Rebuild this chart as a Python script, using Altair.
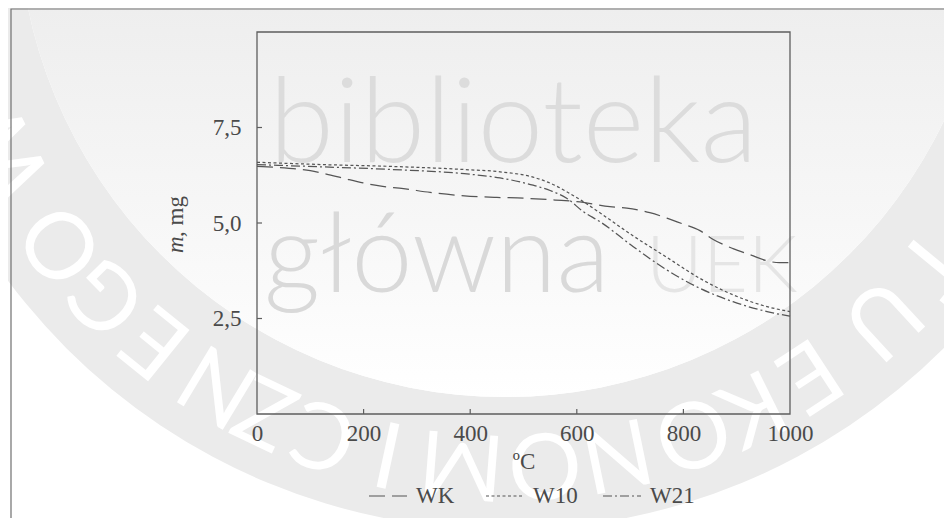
import math
import altair as alt
import pandas as pd

# ---------------- data ----------------
T_WK = [0, 60, 100, 130, 160, 199, 230, 275, 325, 400, 450, 500, 560, 600, 662, 694,
        737, 769, 800, 831, 856, 893, 925, 957, 980, 1000]
M_WK = [6.48, 6.43, 6.37, 6.28, 6.18, 6.05, 5.97, 5.90, 5.80, 5.70, 5.67, 5.65, 5.60,
        5.56, 5.43, 5.39, 5.27, 5.13, 4.97, 4.80, 4.57, 4.33, 4.17, 4.01, 3.96, 3.96]

T_W10 = [0, 121, 255, 389, 456, 518, 560, 581, 612, 644, 706, 769, 831, 893, 957, 1000]
M_W10 = [6.59, 6.53, 6.48, 6.40, 6.34, 6.20, 5.98, 5.82, 5.56, 5.26, 4.66, 4.10, 3.55,
         3.12, 2.81, 2.68]

T_W21 = [0, 121, 255, 389, 456, 518, 550, 581, 612, 644, 706, 769, 831, 893, 957, 1000]
M_W21 = [6.53, 6.47, 6.40, 6.29, 6.18, 5.99, 5.85, 5.65, 5.30, 5.03, 4.38, 3.77, 3.29,
         2.94, 2.68, 2.56]

series_names = ["WK", "W10", "W21"]
dash_patterns = [[16, 7], [3, 2.5], [9, 3, 2, 3]]

x_ticks = [0, 200, 400, 600, 800, 1000]
x_inner_ticks = [200, 400, 600, 800]
y_ticks = [2.5, 5.0, 7.5]

x_title = "ºC"
y_title_italic = "m"
y_title_rest = ", mg"

# watermark texts
wm_word1 = "biblioteka"
wm_word2 = "główna"
wm_word3 = "UEK"
ring_letters = list("TUEKONOMICZNEGOW")
ring_angles = [39.4, 47.3, 56.8, 63.6, 70.3, 78.4, 85.9, 94.5,
               102.1, 109, 115.5, 121.1, 128.9, 135.8, 143, 154]

# ---------------- styling ----------------
W, H = 533, 382
SERIF = "Liberation Serif"
FS = 23
TXT = "#4a4a4a"
LINE = "#555555"
FRAME = "#5e5e5e"

rows = []
for name, ts, ms in [("WK", T_WK, M_WK), ("W10", T_W10, M_W10), ("W21", T_W21, M_W21)]:
    for t, m in zip(ts, ms):
        rows.append({"T": t, "m": m, "series": name})
df = pd.DataFrame(rows)
one = pd.DataFrame({"k": [0]})

x_scale = alt.Scale(domain=[0, 1000], nice=False, zero=False)
y_scale = alt.Scale(domain=[0, 10], nice=False, zero=False)

# --- watermark ---
CX, CY = 248, -122
ring = alt.Chart(one).mark_arc(
    radius=620, radius2=487, theta=0, theta2=2 * math.pi, color="#ebebeb"
).encode(x=alt.value(CX), y=alt.value(CY))

disk = alt.Chart(one).mark_arc(
    radius=487, theta=0, theta2=2 * math.pi,
    color=alt.LinearGradient(
        gradient="linear",
        stops=[
            alt.GradientStop(offset=0, color="#e2e2e2"),
            alt.GradientStop(offset=0.6, color="#eeeeee"),
            alt.GradientStop(offset=0.82, color="#f7f7f7"),
            alt.GradientStop(offset=1, color="#ffffff"),
        ],
        x1=0, x2=0, y1=0, y2=1,
    ),
).encode(x=alt.value(CX), y=alt.value(CY))

letters_df = pd.DataFrame({"ch": ring_letters, "deg": ring_angles})
ring_text = alt.Chart(letters_df).transform_calculate(
    th="(datum.deg + 90) * PI / 180",
    rot="datum.deg + 90",
).mark_text(
    x=CX, y=CY, radius=553, font="Lato", fontWeight=400, fontSize=92,
    color="#ffffff", align="center", baseline="middle",
).encode(
    theta=alt.Theta("th:Q", scale=None, stack=False),
    angle=alt.Angle("rot:Q", scale=None),
    text=alt.Text("ch:N"),
)

wm1 = alt.Chart(one).mark_text(
    text=wm_word1, font="Lato", fontWeight=300, fontSize=118, color="#dcdcdc",
    align="left", baseline="alphabetic",
).encode(x=alt.value(12), y=alt.value(130))
wm2 = alt.Chart(one).mark_text(
    text=wm_word2, font="Lato", fontWeight=300, fontSize=110, color="#d9d9d9",
    align="left", baseline="alphabetic",
).encode(x=alt.value(7), y=alt.value(260))
wm3 = alt.Chart(one).mark_text(
    text=wm_word3, font="Lato", fontWeight=300, fontSize=78, color="#e5e5e5",
    align="left", baseline="alphabetic",
).encode(x=alt.value(389), y=alt.value(260))

outer_border = alt.Chart(one).mark_rect(
    filled=False, stroke="#707070", strokeWidth=1.2
).encode(x=alt.value(-246), x2=alt.value(W + 250), y=alt.value(-23), y2=alt.value(H + 250))

frame = alt.Chart(one).mark_rect(
    filled=False, stroke=FRAME, strokeWidth=1.3
).encode(x=alt.value(0), x2=alt.value(W), y=alt.value(0), y2=alt.value(H))

# --- inward ticks ---
yt = alt.Chart(pd.DataFrame({"v": y_ticks})).mark_rule(color=FRAME, strokeWidth=1.2).encode(
    y=alt.Y("v:Q", scale=y_scale, title=None), x=alt.value(0), x2=alt.value(5)
)
xt = alt.Chart(pd.DataFrame({"v": x_inner_ticks})).mark_rule(color=FRAME, strokeWidth=1.2).encode(
    x=alt.X("v:Q", scale=x_scale, title=x_title), y=alt.value(H), y2=alt.value(H - 5)
)

# --- lines ---
x_axis = alt.Axis(
    values=x_ticks, format="d", domain=False, ticks=False, grid=False,
    labelFont=SERIF, labelFontSize=FS, labelColor=TXT, labelPadding=26,
    labelBaseline="alphabetic", labelFlush=False,
    title=x_title, titleFont=SERIF, titleFontSize=FS, titleFontWeight="normal",
    titleColor=TXT, titleX=W / 2, titleY=54, titleBaseline="alphabetic",
    titleAlign="center", zindex=1,
)
y_axis = alt.Axis(
    values=y_ticks, labelExpr="replace(format(datum.value, '.1f'), '.', ',')",
    domain=False, ticks=False, grid=False,
    labelFont=SERIF, labelFontSize=FS, labelColor=TXT, labelPadding=16, zindex=1,
)

lines = alt.Chart(df).mark_line(color=LINE, strokeWidth=1.25, interpolate="monotone").encode(
    x=alt.X("T:Q", scale=x_scale, axis=x_axis, title=x_title),
    y=alt.Y("m:Q", scale=y_scale, axis=y_axis, title=None),
    strokeDash=alt.StrokeDash(
        "series:N",
        scale=alt.Scale(domain=series_names, range=dash_patterns),
        sort=series_names,
        legend=alt.Legend(
            title=None, orient="none", legendX=111, legendY=444, direction="horizontal",
            symbolType="stroke", symbolSize=1444, symbolStrokeWidth=1.2,
            symbolStrokeColor=LINE, labelFont=SERIF, labelFontSize=FS,
            labelColor=TXT, labelOffset=8, columnPadding=22, gridAlign="all",
            padding=0, zindex=1,
        ),
    ),
)

yt1 = alt.Chart(one).mark_text(
    text=y_title_italic, font=SERIF, fontSize=FS, fontStyle="italic", color=TXT,
    angle=270, align="left", baseline="alphabetic",
).encode(x=alt.value(-74), y=alt.value(221))
yt2 = alt.Chart(one).mark_text(
    text=y_title_rest, font=SERIF, fontSize=FS, color=TXT,
    angle=270, align="left", baseline="alphabetic",
).encode(x=alt.value(-74), y=alt.value(205))

chart = alt.layer(
    ring, disk, ring_text, wm1, wm2, wm3, outer_border, frame, yt, xt, lines, yt1, yt2
).properties(
    width=W, height=H,
    autosize=alt.AutoSizeParams(type="none"),
    padding={"left": 249, "top": 24, "right": 154, "bottom": 104},
    background="white",
).configure_view(stroke=None)

chart.save("out.html", embed_options={"renderer": "svg", "actions": False})
